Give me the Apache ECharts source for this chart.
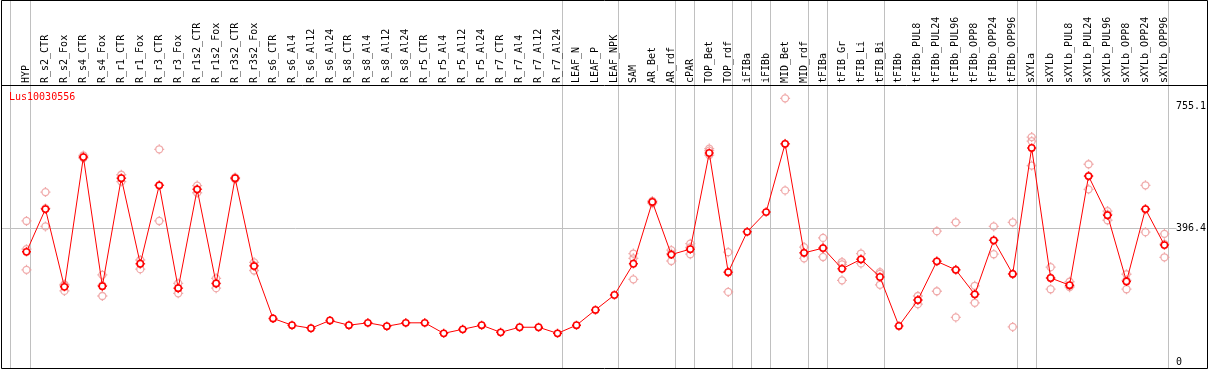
<!DOCTYPE html>
<html><head><meta charset="utf-8">
<script src="https://cdn.jsdelivr.net/npm/echarts@6/dist/echarts.min.js"></script>
<style>html,body{margin:0;padding:0;background:#fff}#c{width:1209px;height:370px}</style>
</head><body><div id="c"></div>
<script>
const geneName = 'Lus10030556';
const categories = ['HYP','R_s2_CTR','R_s2_Fox','R_s4_CTR','R_s4_Fox','R_r1_CTR','R_r1_Fox','R_r3_CTR','R_r3_Fox','R_r1s2_CTR','R_r1s2_Fox','R_r3s2_CTR','R_r3s2_Fox','R_s6_CTR','R_s6_Al4','R_s6_Al12','R_s6_Al24','R_s8_CTR','R_s8_Al4','R_s8_Al12','R_s8_Al24','R_r5_CTR','R_r5_Al4','R_r5_Al12','R_r5_Al24','R_r7_CTR','R_r7_Al4','R_r7_Al12','R_r7_Al24','LEAF_N','LEAF_P','LEAF_NPK','SAM','AR_Bet','AR_rdf','cPAR','TOP_Bet','TOP_rdf','iFIBa','iFIBb','MID_Bet','MID_rdf','tFIBa','tFIB_Gr','tFIB_Li','tFIB_Bi','tFIBb','tFIBb_PUL8','tFIBb_PUL24','tFIBb_PUL96','tFIBb_OPP8','tFIBb_OPP24','tFIBb_OPP96','sXYLa','sXYLb','sXYLb_PUL8','sXYLb_PUL24','sXYLb_PUL96','sXYLb_OPP8','sXYLb_OPP24','sXYLb_OPP96'];
const meanValues = [327,453,224,606,226,544,292,523,220,511,234,544,285,131,111,102,125,111,118,108,118,118,87,99,111,90,105,105,87,111,156,200,292,474,319,335,618,267,386,444,645,324,338,277,305,253,109,185,299,274,202,361,262,633,250,229,550,435,240,453,347];
const rep1 = [418,503,231,611,259,554,303,629,234,522,249,546,296,null,null,null,null,null,null,null,null,null,null,null,null,null,null,null,null,null,null,null,322,477,332,351,631,326,null,null,779,341,368,297,322,267,null,197,388,414,227,402,414,665,282,239,585,447,261,523,380];
const rep2 = [335,402,212,603,197,534,276,418,205,501,220,541,272,null,null,null,null,null,null,null,null,null,null,null,null,null,null,null,null,null,null,null,308,470,300,320,612,209,null,null,508,308,312,243,293,230,null,173,211,134,177,320,106,653,217,223,511,420,217,385,311];
const rep3 = [274,455,228,606,228,544,292,523,220,511,234,544,287,null,null,null,null,null,null,null,null,null,null,null,null,null,null,null,null,null,null,null,246,474,322,340,625,267,null,null,645,324,338,290,305,262,null,185,299,274,202,361,262,581,250,227,550,437,243,452,350];
const groupEnds = ['HYP','R_r7_Al24','LEAF_NPK','AR_rdf','cPAR','TOP_rdf','iFIBa','iFIBb','MID_rdf','tFIBa','tFIB_Bi','tFIBb_OPP96','sXYLa','sXYLb_OPP96'];
const yTickValues = [0, 396.4, 755.1];
const refLineValue = 396.4;

const FONT = 'DejaVu Sans Mono';
const markerPath = 'path://M5,0V1.5M5,8.5V10M0,5H1.5M8.5,5H10M8.5,5A3.5,3.5,0,1,1,1.5,5A3.5,3.5,0,1,1,8.5,5Z';
const chart = echarts.init(document.getElementById('c'), null, {renderer:'canvas'});

function repSeries(arr){
  return {type:'scatter', data:arr, symbol:markerPath, symbolSize:10, z:3,
    itemStyle:{color:'rgba(255,255,255,0)', borderColor:'#ec9696', borderWidth:1.3}, silent:true, animation:false};
}

chart.setOption({
  animation:false,
  title:{text:geneName, left:9, top:92, padding:0, textStyle:{fontSize:10, fontFamily:FONT, color:'#ff0000', fontWeight:'normal'}},
  grid:{left:17, top:85, width:1159, height:283.5, containLabel:false},
  xAxis:{type:'category', data:categories, position:'top', boundaryGap:true,
    axisLine:{show:false}, axisTick:{show:false}, splitLine:{show:false},
    axisLabel:{interval:0, rotate:90, margin:2, fontSize:10, fontFamily:FONT, color:'#000'}},
  yAxis:{type:'value', position:'right', min:-16.5, max:818.3,
    axisLine:{show:false}, axisTick:{show:false}, splitLine:{show:false},
    axisLabel:{customValues:yTickValues, margin:2, fontSize:10, fontFamily:FONT, color:'#000', align:'left',
      formatter:v=>String(v)}},
  series:[repSeries(rep1), repSeries(rep2), repSeries(rep3),
    {type:'line', data:meanValues, symbol:markerPath, symbolSize:9, showAllSymbol:true, z:5,
     lineStyle:{color:'#ff0000', width:1}, itemStyle:{color:'#ffffff', borderColor:'#ff0000', borderWidth:1.5}}]
});

const gfx = [];
const yRef = Math.round(chart.convertToPixel({yAxisIndex:0}, refLineValue)) + 0.5;
gfx.push({type:'line', z:0, shape:{x1:1.5, y1:yRef, x2:1176.5, y2:yRef}, style:{stroke:'#c0c0c0', lineWidth:1}});
const firstX = chart.convertToPixel({xAxisIndex:0}, categories[0]);
gfx.push({type:'line', z:0, shape:{x1:Math.round(firstX-16)+0.5, y1:0, x2:Math.round(firstX-16)+0.5, y2:369}, style:{stroke:'#c0c0c0', lineWidth:1}});
groupEnds.forEach(c=>{
  const x = Math.round(chart.convertToPixel({xAxisIndex:0}, c) + 4) + 0.5;
  gfx.push({type:'line', z:0, shape:{x1:x, y1:0, x2:x, y2:369}, style:{stroke:'#c0c0c0', lineWidth:1}});
});
gfx.push({type:'line', z:10, shape:{x1:1, y1:85.5, x2:1208, y2:85.5}, style:{stroke:'#000', lineWidth:1}});
gfx.push({type:'rect', z:10, shape:{x:1.5, y:0.5, width:1206, height:368}, style:{fill:null, stroke:'#000', lineWidth:1}});
chart.setOption({graphic:gfx});
</script></body></html>
